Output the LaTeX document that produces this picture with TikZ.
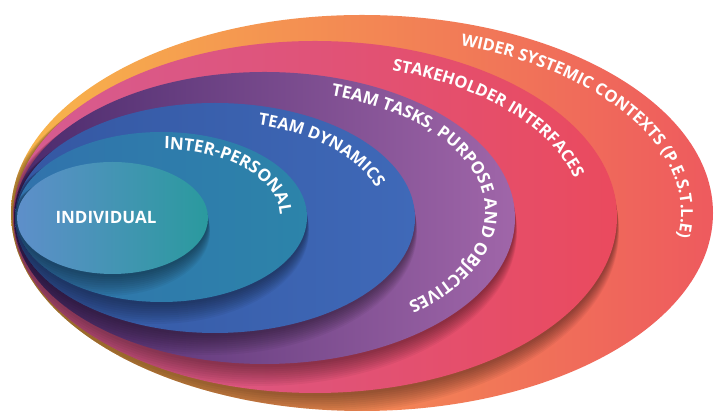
\documentclass[tikz,border=0pt]{standalone}
\usepackage{fontspec}
\setmainfont{Open Sans}
\usetikzlibrary{decorations.text,calc}
\definecolor{oL}{HTML}{F8B64A}
\definecolor{oM}{HTML}{F38E50}
\definecolor{oR}{HTML}{EE5A5E}
\definecolor{pL}{HTML}{D65C92}
\definecolor{pM}{HTML}{E2507A}
\definecolor{pR}{HTML}{EA4A5E}
\definecolor{uL}{HTML}{4A2A6C}
\definecolor{uM}{HTML}{74458F}
\definecolor{uR}{HTML}{A066A9}
\definecolor{bL}{HTML}{3457A2}
\definecolor{bR}{HTML}{3F69B8}
\definecolor{tL}{HTML}{3172AC}
\definecolor{tR}{HTML}{2C84AA}
\definecolor{iL}{HTML}{5E8FCA}
\definecolor{iR}{HTML}{2A9A9E}
\newcommand{\lblfont}{\bfseries\fontsize{16.5}{16.5}\selectfont}
\newcommand{\lblfontb}{\bfseries\fontsize{17}{17}\selectfont}
\tikzset{
  lbl/.style={decorate, decoration={text along path, text color=white, text align=left}},
  shadowlayer/.style={fill=black, opacity=0.045},
}
\begin{document}
\begin{tikzpicture}[x=1pt,y=1pt]
\useasboundingbox (0,0) rectangle (718,411);
\fill[white] (0,0) rectangle (718,411);
% outer: wider systemic contexts
\shade[left color=oL, middle color=oM, right color=oR] (362,198) ellipse [x radius=351, y radius=198];
% pink shadow + ellipse
\begin{scope}
\clip (362,198) ellipse [x radius=351, y radius=198];
\foreach \k in {1,...,10}{\fill[shadowlayer] ({315-0.6*\k},{194-1-1.3*\k}) ellipse [x radius={302+0.8*\k}, y radius={176+0.8*\k}];}
\end{scope}
\shade[left color=pL, middle color=pM, right color=pR] (315,194) ellipse [x radius=302, y radius=176];
% purple
\begin{scope}
\clip (315,194) ellipse [x radius=302, y radius=176];
\foreach \k in {1,...,10}{\fill[shadowlayer] ({264.5-0.6*\k},{193-1-1.3*\k}) ellipse [x radius={250.5+0.8*\k}, y radius={146+0.8*\k}];}
\end{scope}
\shade[left color=uL, middle color=uM, right color=uR] (264.5,193) ellipse [x radius=250.5, y radius=146];
% blue
\begin{scope}
\clip (264.5,193) ellipse [x radius=250.5, y radius=146];
\foreach \k in {1,...,10}{\fill[shadowlayer] ({215-0.6*\k},{193-1-1.3*\k}) ellipse [x radius={200+0.8*\k}, y radius={115+0.8*\k}];}
\end{scope}
\shade[left color=bL, right color=bR] (215,193) ellipse [x radius=200, y radius=115];
% teal
\begin{scope}
\clip (215,193) ellipse [x radius=200, y radius=115];
\foreach \k in {1,...,10}{\fill[shadowlayer] ({161.5-0.6*\k},{194-1-1.3*\k}) ellipse [x radius={145.5+0.8*\k}, y radius={85+0.8*\k}];}
\end{scope}
\shade[left color=tL, right color=tR] (161.5,194) ellipse [x radius=145.5, y radius=85];
% individual
\begin{scope}
\clip (161.5,194) ellipse [x radius=145.5, y radius=85];
\foreach \k in {1,...,10}{\fill[shadowlayer] ({112.5-0.6*\k},{193-1-1.3*\k}) ellipse [x radius={95.5+0.8*\k}, y radius={56+0.8*\k}];}
\end{scope}
\shade[left color=iL, right color=iR] (112.5,193) ellipse [x radius=95.5, y radius=56];
% labels
\node[text=white, font=\lblfontb, inner sep=0pt] (ind) at (106,194) {INDIVIDUAL};
\path[lbl, decoration={text={|\lblfont|WIDER SYSTEMIC CONTEXTS (P.E.S.T.L.E)}}]
  ($(362,198)+(72:319 and 176)$) arc[start angle=72, end angle=-30, x radius=319, y radius=176];
\path[lbl, decoration={text={|\lblfont|STAKEHOLDER INTERFACES}}]
  ($(315,194)+(73.3:268 and 153)$) arc[start angle=73.3, end angle=-10, x radius=268, y radius=153];
\path[lbl, decoration={text={|\lblfontb|TEAM TASKS, PURPOSE AND OBJECTIVES}}]
  ($(265,200)+(72.5:220 and 121)$) arc[start angle=72.5, end angle=-80, x radius=220, y radius=121];
\path[lbl, decoration={text={|\lblfont|TEAM DYNAMICS}}]
  ($(216,193)+(75.6:169 and 96)$) arc[start angle=75.6, end angle=-10, x radius=169, y radius=96];
\path[lbl, decoration={text={|\lblfontb|INTER-PERSONAL}}]
  ($(162,194)+(89:118 and 68)$) arc[start angle=89, end angle=-30, x radius=118, y radius=68];
\end{tikzpicture}
\end{document}
